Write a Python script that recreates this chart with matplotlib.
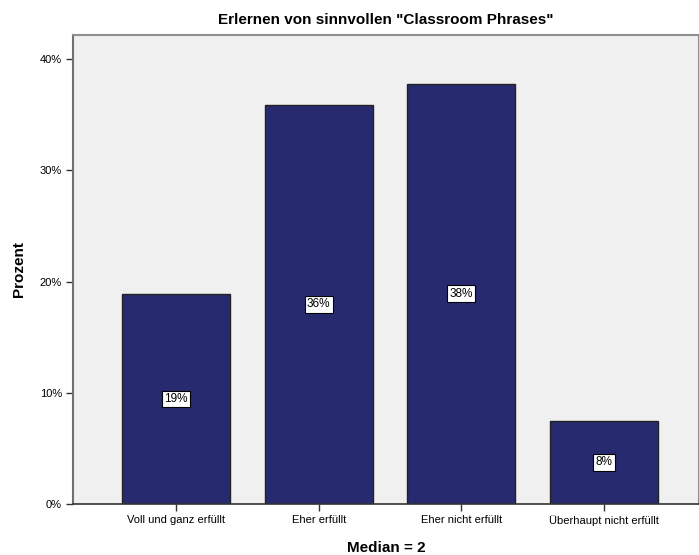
import matplotlib.pyplot as plt

plt.rcParams['font.family'] = ['Liberation Sans', 'DejaVu Sans']

categories = ["Voll und ganz erfüllt", "Eher erfüllt", "Eher nicht erfüllt",
              "Überhaupt nicht erfüllt"]
percent = [18.9, 35.9, 37.8, 7.5]
labels = ["19%", "36%", "38%", "8%"]

fig = plt.figure(figsize=(6.99, 5.55), dpi=100)
ax = fig.add_axes([73 / 699, 51 / 555, 626 / 699, 469 / 555])
ax.set_facecolor("#f0f0f0")

x = range(len(categories))
bars = ax.bar(x, percent, width=0.757, color="#282a70", edgecolor="#222222",
              linewidth=1)

# percentage boxes in the middle of each bar
for b, lab in zip(bars, labels):
    ax.text(b.get_x() + b.get_width() / 2, b.get_height() / 2, lab,
            ha="center", va="center", fontsize=8.5,
            bbox=dict(boxstyle="square,pad=0.2", fc="white", ec="black", lw=0.8))

ax.set_xlim(-0.722, 3.666)
ax.set_ylim(0, 42.16)
ax.set_xticks(list(x))
ax.set_xticklabels(categories, fontsize=8)
ax.set_yticks([0, 10, 20, 30, 40])
ax.set_yticklabels(["0%", "10%", "20%", "30%", "40%"], fontsize=8)
ax.tick_params(axis="both", direction="out", length=5, width=1, color="#333333", pad=3)

for s in ["top", "right"]:
    ax.spines[s].set_color("#909090")
    ax.spines[s].set_linewidth(1.5)
ax.spines["left"].set_color("#707070")
ax.spines["left"].set_linewidth(1.5)
ax.spines["bottom"].set_color("#333333")
ax.spines["bottom"].set_linewidth(1.2)

ax.set_title('Erlernen von sinnvollen "Classroom Phrases"', fontsize=11,
             fontweight="bold", pad=8)
ax.set_ylabel("Prozent", fontsize=11, fontweight="bold", labelpad=10)
ax.set_xlabel("Median = 2", fontsize=11, fontweight="bold", labelpad=11)

plt.savefig("out.png")
